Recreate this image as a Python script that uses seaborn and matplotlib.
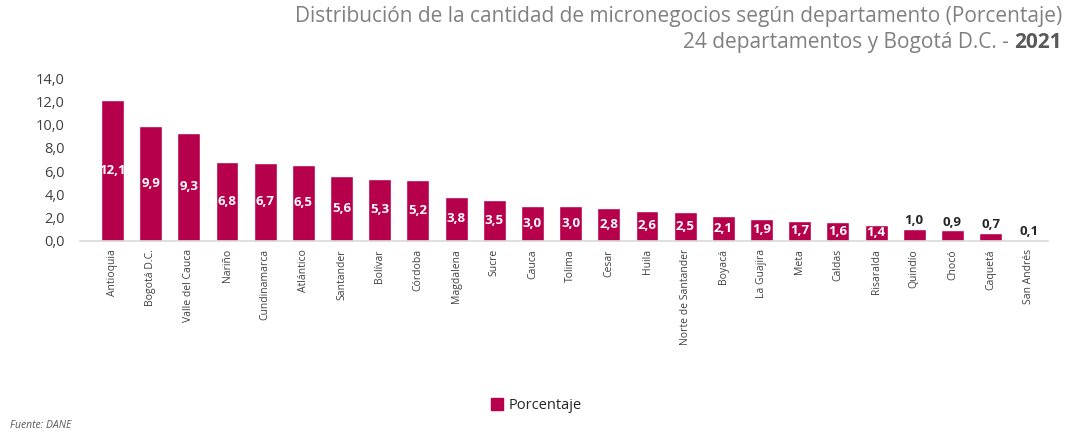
import matplotlib
matplotlib.use('Agg')
import matplotlib.pyplot as plt
from matplotlib.patches import Patch
from matplotlib.ticker import FuncFormatter
import seaborn as sns
import pandas as pd

departamentos = ['Antioquia', 'Bogotá D.C.', 'Valle del Cauca', 'Nariño', 'Cundinamarca',
                 'Atlántico', 'Santander', 'Bolívar', 'Córdoba', 'Magdalena', 'Sucre',
                 'Cauca', 'Tolima', 'Cesar', 'Huila', 'Norte de Santander', 'Boyacá',
                 'La Guajira', 'Meta', 'Caldas', 'Risaralda', 'Quindío', 'Chocó',
                 'Caquetá', 'San Andrés']
porcentaje = [12.1, 9.9, 9.3, 6.8, 6.7, 6.5, 5.6, 5.3, 5.2, 3.8, 3.5, 3.0, 3.0, 2.8,
              2.6, 2.5, 2.1, 1.9, 1.7, 1.6, 1.4, 1.0, 0.9, 0.7, 0.1]

df = pd.DataFrame({'departamento': departamentos, 'porcentaje': porcentaje})

color = '#B7004C'
sns.set_style('white')
plt.rcParams['font.family'] = ['Open Sans', 'DejaVu Sans']

fig = plt.figure(figsize=(10.73, 4.37), dpi=100)
ax = fig.add_axes([0.0746, 0.449, 0.902, 0.3725])

sns.barplot(data=df, x='departamento', y='porcentaje', color=color, saturation=1,
            width=0.6, ax=ax)

ax.set_ylim(0, 14)
ax.set_xlim(-0.85, len(df) - 0.5)
ax.set_yticks(range(0, 15, 2))
ax.yaxis.set_major_formatter(FuncFormatter(lambda v, p: f'{v:.1f}'.replace('.', ',')))
ax.tick_params(axis='y', labelsize=10.5, colors='#404040', length=0, pad=11)
ax.tick_params(axis='x', labelsize=7.5, colors='#404040', length=0, rotation=90, pad=6)
ax.set_xlabel('')
ax.set_ylabel('')
for s in ['top', 'right', 'left']:
    ax.spines[s].set_visible(False)
ax.spines['bottom'].set_color('#d9d9d9')
ax.spines['bottom'].set_linewidth(1.2)

# value labels: inside the bar, above it for the small ones
for i, v in enumerate(porcentaje):
    txt = f'{v:.1f}'.replace('.', ',')
    if v >= 1.4:
        ax.text(i, v / 2, txt, ha='center', va='center', color='white',
                fontsize=9.5, fontweight='bold')
    else:
        ax.text(i, v + 0.15, txt, ha='center', va='bottom', color='#262626',
                fontsize=9.5, fontweight='bold')

# titles
fig.text(0.99, 0.962, 'Distribución de la cantidad de micronegocios según departamento (Porcentaje)',
         ha='right', va='center', fontsize=15, color='#808080')
t_year = fig.text(0.99, 0.902, '2021', ha='right', va='center', fontsize=15,
                  color='#595959', fontweight='bold')
fig.canvas.draw()
bb = t_year.get_window_extent().transformed(fig.transFigure.inverted())
fig.text(bb.x0, 0.902, '24 departamentos y Bogotá D.C. - ', ha='right', va='center',
         fontsize=15, color='#808080')

fig.legend(handles=[Patch(color=color, label='Porcentaje')], loc='center',
           bbox_to_anchor=(0.5, 0.072), frameon=False, fontsize=10.5,
           handlelength=0.8, handleheight=0.8, handletextpad=0.4)

fig.text(0.009, 0.027, 'Fuente: DANE', fontsize=7.5, style='italic', color='#595959',
         va='center')

fig.savefig('out.png', dpi=100)
